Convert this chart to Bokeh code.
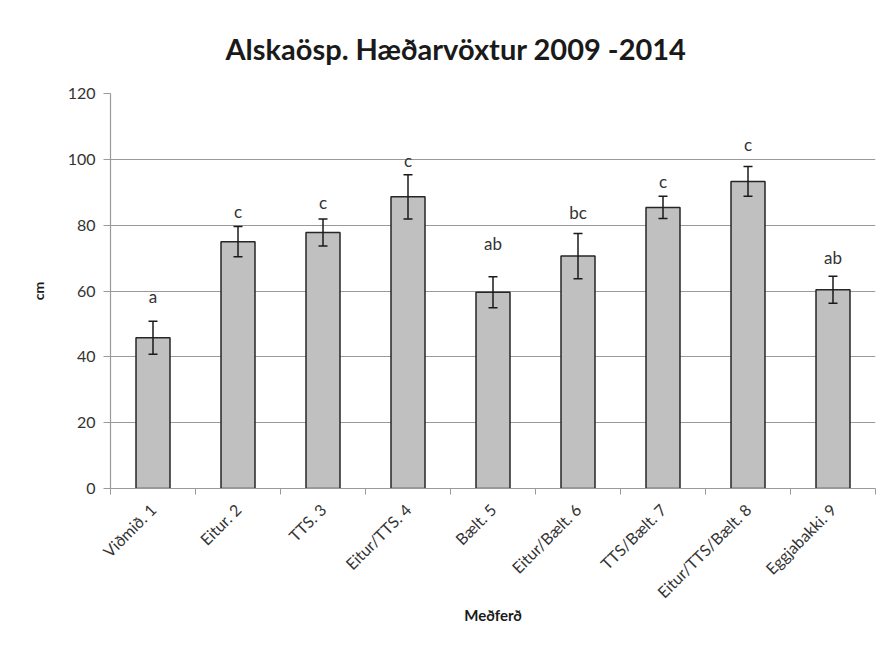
from bokeh.plotting import figure
from bokeh.models import Range1d, FixedTicker, Whisker, TeeHead, ColumnDataSource, LabelSet, Title
from bokeh.core.properties import value
from bokeh.embed import file_html
from bokeh.resources import INLINE

categories = ["Viðmið. 1", "Eitur. 2", "TTS. 3", "Eitur/TTS. 4", "Bælt. 5",
              "Eitur/Bælt. 6", "TTS/Bælt. 7", "Eitur/TTS/Bælt. 8", "Eggjabakki. 9"]
values = [45.8, 75.0, 77.8, 88.6, 59.6, 70.6, 85.4, 93.3, 60.4]
errors = [5.0, 4.6, 4.1, 6.7, 4.7, 6.9, 3.4, 4.5, 4.1]
letters = ["a", "c", "c", "c", "ab", "bc", "c", "c", "ab"]
letter_y = [58.2, 84.2, 86.8, 99.6, 74.5, 83.7, 93.3, 104.6, 70.1]
y_ticks = [0, 20, 40, 60, 80, 100, 120]

FONT = "Lato"
TXT = "#333333"

centers = [i + 0.5 for i in range(len(categories))]
src = ColumnDataSource(dict(
    x=centers, top=values,
    upper=[v + e for v, e in zip(values, errors)],
    lower=[v - e for v, e in zip(values, errors)],
    letter=letters, ly=letter_y,
))

p = figure(width=877, height=651, output_backend="svg", toolbar_location=None,
           x_range=Range1d(0, len(categories)), y_range=Range1d(0, 120),
           min_border_left=110, min_border_right=2, min_border_top=92, min_border_bottom=163)
p.outline_line_color = None
p.background_fill_color = "white"

p.title = Title(text="Alskaösp. Hæðarvöxtur 2009 -2014", align="left", offset=115,
                text_font=FONT, text_font_size="29px", text_font_style="bold",
                text_color="#1a1a1a", standoff=56)

p.vbar(x="x", top="top", width=0.4, source=src, fill_color="#c0c0c0",
       line_color="#262626", line_width=1.5)

w = Whisker(source=src, base="x", upper="upper", lower="lower",
            line_color="#1a1a1a", line_width=1.5, level="overlay",
            upper_head=TeeHead(size=9, line_color="#1a1a1a", line_width=1.5),
            lower_head=TeeHead(size=9, line_color="#1a1a1a", line_width=1.5))
p.add_layout(w)

labels = LabelSet(x="x", y="ly", text="letter", source=src, text_align="center",
                  text_baseline="middle", text_font=value(FONT), text_font_size=value("17px"),
                  text_color=value(TXT))
p.add_layout(labels)

# axes
p.xgrid.visible = False
p.ygrid.grid_line_color = "#9a9a9a"
p.ygrid.grid_line_width = 1.2
p.yaxis.ticker = FixedTicker(ticks=y_ticks)
p.yaxis.axis_line_color = "#9a9a9a"
p.yaxis.axis_line_width = 1.2
p.yaxis.major_tick_line_color = "#9a9a9a"
p.yaxis.major_tick_out = 7
p.yaxis.major_tick_in = 0
p.yaxis.minor_tick_line_color = None
p.yaxis.major_label_text_font = FONT
p.yaxis.major_label_text_font_size = "16px"
p.yaxis.major_label_text_color = TXT
p.yaxis.major_label_standoff = 8
p.yaxis.axis_label = "cm"
p.yaxis.axis_label_text_font = FONT
p.yaxis.axis_label_text_font_size = "14px"
p.yaxis.axis_label_text_font_style = "bold"
p.yaxis.axis_label_text_color = "#1a1a1a"
p.yaxis.axis_label_standoff = 18

p.xaxis.ticker = FixedTicker(ticks=centers, minor_ticks=list(range(len(categories) + 1)))
p.xaxis.major_label_overrides = {c: name for c, name in zip(centers, categories)}
p.xaxis.major_label_orientation = 0.785398
p.xaxis.axis_line_color = "#9a9a9a"
p.xaxis.axis_line_width = 1.2
p.xaxis.major_tick_line_color = None
p.xaxis.major_tick_out = 0
p.xaxis.major_tick_in = 0
p.xaxis.minor_tick_line_color = "#9a9a9a"
p.xaxis.minor_tick_out = 6
p.xaxis.minor_tick_in = 0
p.xaxis.major_label_text_font = FONT
p.xaxis.major_label_text_font_size = "16px"
p.xaxis.major_label_text_color = TXT
p.xaxis.major_label_standoff = 12
p.xaxis.axis_label = "Meðferð"
p.xaxis.axis_label_text_font = FONT
p.xaxis.axis_label_text_font_size = "15px"
p.xaxis.axis_label_text_font_style = "bold"
p.xaxis.axis_label_text_color = "#1a1a1a"
p.xaxis.axis_label_standoff = -5

open("out.html", "w").write(file_html(p, INLINE))
